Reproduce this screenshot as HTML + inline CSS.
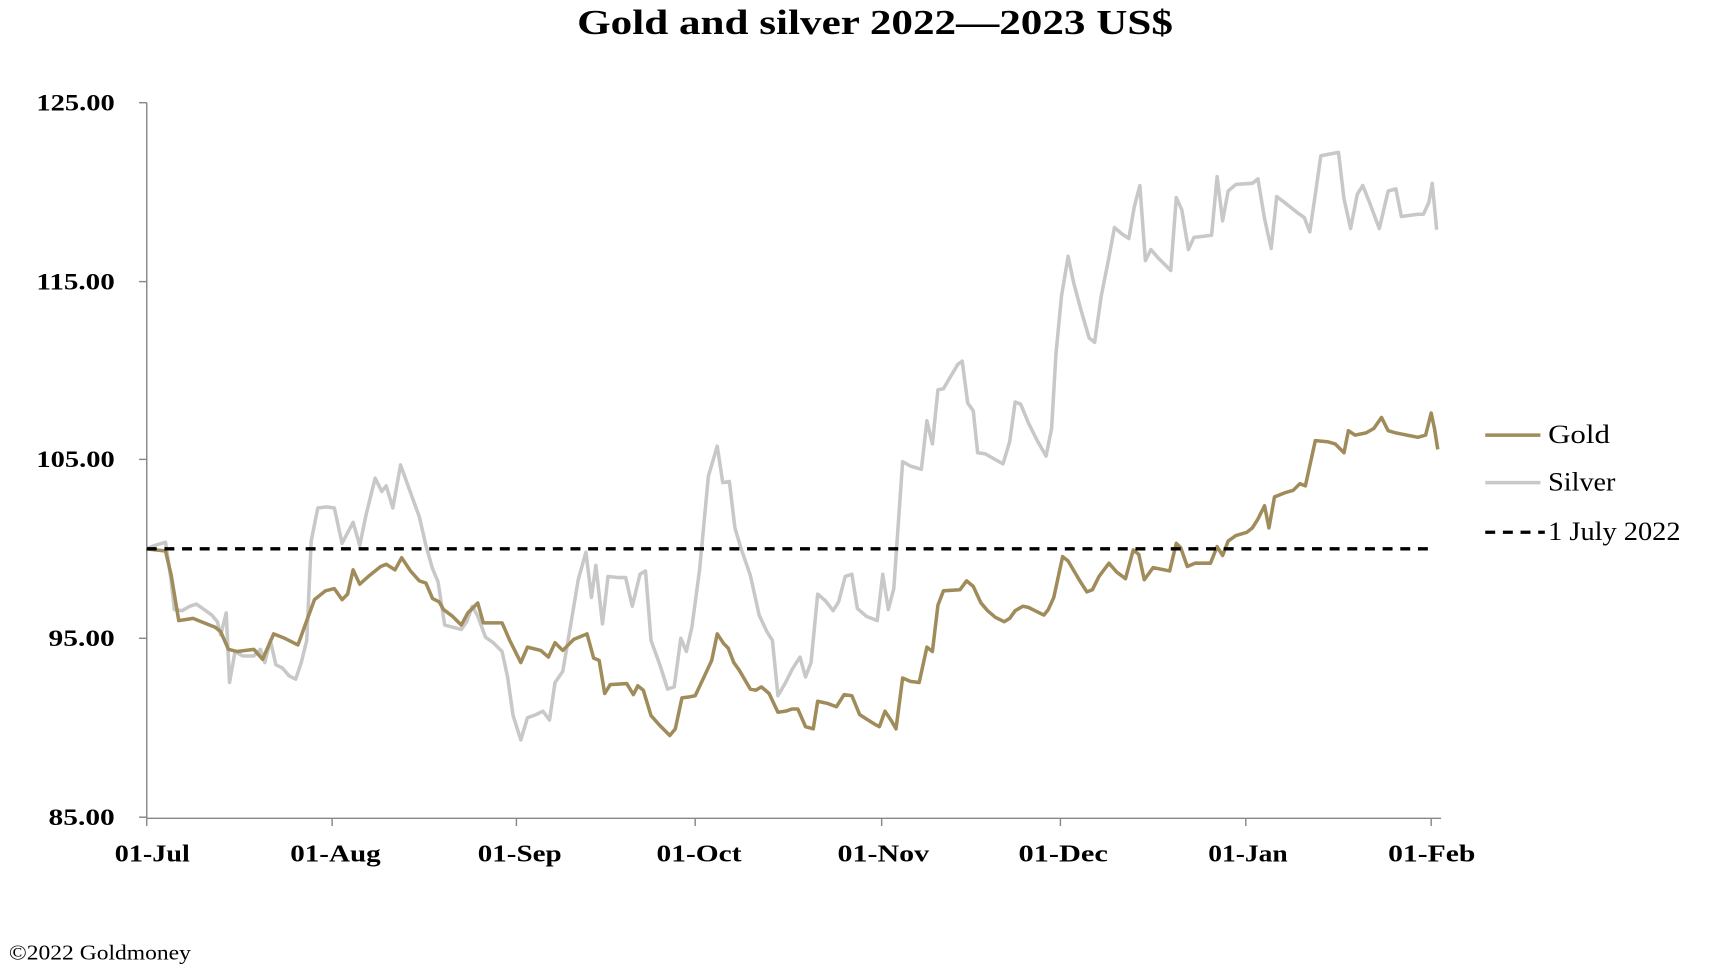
<!DOCTYPE html>
<html><head><meta charset="utf-8"><style>
html,body{margin:0;padding:0;background:#fff;}
svg{display:block;}
text{font-family:"Liberation Serif",serif;fill:#000;}
</style></head><body>
<svg width="1728" height="974" viewBox="0 0 1566 882" preserveAspectRatio="none">
<text x="523" y="31" font-size="32" font-weight="bold" textLength="540" lengthAdjust="spacingAndGlyphs">Gold and silver 2022—2023  US$</text>
<g font-size="21" font-weight="bold">
<text x="33" y="100" textLength="71" lengthAdjust="spacingAndGlyphs">125.00</text>
<text x="33" y="262" textLength="71" lengthAdjust="spacingAndGlyphs">115.00</text>
<text x="33" y="423" textLength="71" lengthAdjust="spacingAndGlyphs">105.00</text>
<text x="44" y="585" textLength="60" lengthAdjust="spacingAndGlyphs">95.00</text>
<text x="44" y="747" textLength="60" lengthAdjust="spacingAndGlyphs">85.00</text>
</g>
<g stroke="#888" stroke-width="1.3" fill="none">
<line x1="133" y1="93" x2="133" y2="741"/>
<line x1="133" y1="741" x2="1306" y2="741"/>
<line x1="126" y1="93" x2="133" y2="93"/><line x1="126" y1="255" x2="133" y2="255"/><line x1="126" y1="416" x2="133" y2="416"/><line x1="126" y1="578" x2="133" y2="578"/><line x1="126" y1="740" x2="133" y2="740"/>
<line x1="133" y1="741" x2="133" y2="748"/><line x1="301" y1="741" x2="301" y2="748"/><line x1="468" y1="741" x2="468" y2="748"/><line x1="630" y1="741" x2="630" y2="748"/><line x1="799" y1="741" x2="799" y2="748"/><line x1="961" y1="741" x2="961" y2="748"/><line x1="1129" y1="741" x2="1129" y2="748"/><line x1="1297" y1="741" x2="1297" y2="748"/>
</g>
<g font-size="22" font-weight="bold">
<text x="104" y="780" textLength="68" lengthAdjust="spacingAndGlyphs">01-Jul</text>
<text x="263" y="780" textLength="82" lengthAdjust="spacingAndGlyphs">01-Aug</text>
<text x="433" y="780" textLength="76" lengthAdjust="spacingAndGlyphs">01-Sep</text>
<text x="595" y="780" textLength="77" lengthAdjust="spacingAndGlyphs">01-Oct</text>
<text x="759" y="780" textLength="83" lengthAdjust="spacingAndGlyphs">01-Nov</text>
<text x="923" y="780" textLength="81" lengthAdjust="spacingAndGlyphs">01-Dec</text>
<text x="1095" y="780" textLength="72" lengthAdjust="spacingAndGlyphs">01-Jan</text>
<text x="1258" y="780" textLength="79" lengthAdjust="spacingAndGlyphs">01-Feb</text>
</g>
<polyline fill="none" stroke="#c8c8c8" stroke-width="3.2" stroke-linejoin="round" points="133,497 140,494 150,491 155,525 158,552 165,553 172,549 178,547 185,552 192,557 197,563 200,575 205,555 208,618 213,590 220,594 230,594 236,588 240,600 245,580 250,602 256,605 262,612 268,615 273,600 278,580 282,490 288,460 296,459 303,460 310,492 320,473 326,494 332,465 340,433 346,445 350,440 356,460 363,421 372,446 380,468 386,494 392,515 397,527 403,566 418,570 423,563 428,549 433,558 440,577 447,582 455,590 460,613 465,648 472,670 478,650 486,647 492,644 498,652 503,618 510,608 518,561 524,525 531,500 536,541 540,512 546,565 551,522 560,523 567,523 573,549 580,520 585,517 590,580 598,602 605,624 611,622 617,578 622,590 627,568 634,516 642,431 650,404 655,437 661,436 666,478 672,498 680,521 688,557 695,572 700,580 705,630 712,618 718,606 725,595 730,613 735,600 741,538 748,544 755,553 760,545 766,522 772,520 777,551 785,558 795,562 800,520 805,552 810,533 818,418 825,422 835,425 840,381 845,402 850,353 855,352 862,340 868,330 872,327 877,365 882,372 886,410 893,411 900,415 909,420 915,400 920,364 925,366 932,383 940,399 948,413 953,388 957,320 962,268 968,232 973,256 980,282 987,306 992,310 998,268 1005,233 1010,206 1017,212 1023,216 1028,187 1033,168 1038,236 1043,226 1050,234 1061,245 1066,179 1071,190 1077,226 1082,215 1090,214 1098,213 1103,160 1108,200 1113,173 1120,167 1135,166 1140,162 1146,198 1152,225 1157,178 1165,184 1175,192 1182,197 1187,210 1192,176 1197,141 1213,138 1218,180 1224,207 1230,176 1235,168 1241,183 1250,207 1258,173 1265,171 1270,196 1285,194 1290,194 1295,183 1298,166 1302,208"/>
<polyline fill="none" stroke="#a08c5b" stroke-width="3.2" stroke-linejoin="round" points="133,497 150,499 155,520 162,562 175,560 185,564 195,568 200,572 207,588 215,590 230,588 238,597 248,574 258,578 270,584 278,562 285,543 295,535 303,533 310,543 315,538 320,516 326,529 335,521 345,513 350,511 358,516 364,505 372,517 380,526 386,528 392,542 398,545 402,552 410,558 418,566 424,555 433,546 438,564 455,564 462,580 472,600 478,586 490,589 497,595 503,582 510,589 520,579 532,574 538,596 543,598 548,628 553,620 568,619 574,629 578,621 583,625 590,648 598,657 607,666 612,660 618,632 625,631 630,630 638,613 645,598 650,574 656,583 660,587 665,600 670,607 680,624 685,625 690,622 697,628 705,645 712,644 718,642 723,642 730,658 737,660 741,635 750,637 758,640 765,629 772,630 779,647 785,651 793,656 797,658 802,644 808,653 812,660 818,614 825,617 833,618 840,586 845,590 850,548 855,535 870,534 876,526 882,531 889,546 895,553 902,559 910,563 915,560 920,553 927,549 932,550 940,554 946,557 950,552 955,541 963,504 968,508 978,525 985,536 990,534 996,522 1005,510 1012,518 1020,524 1027,498 1032,502 1037,525 1045,514 1060,517 1066,492 1070,496 1076,513 1083,510 1097,510 1103,495 1108,503 1113,490 1120,485 1130,482 1135,478 1140,470 1146,458 1150,478 1155,450 1165,446 1172,444 1178,438 1183,440 1192,399 1203,400 1210,402 1218,410 1222,390 1228,394 1238,392 1245,388 1252,378 1258,390 1265,392 1275,394 1285,396 1292,394 1297,374 1300,388 1303,407"/>
<line x1="133" y1="497" x2="1300" y2="497" stroke="#000" stroke-width="3" stroke-dasharray="9,7"/>
<line x1="1346" y1="394" x2="1396" y2="394" stroke="#a08c5b" stroke-width="3.2"/>
<line x1="1346" y1="437" x2="1396" y2="437" stroke="#c8c8c8" stroke-width="3.2"/>
<line x1="1346" y1="482" x2="1400" y2="482" stroke="#000" stroke-width="3" stroke-dasharray="9,7"/>
<g font-size="24">
<text x="1403" y="401" textLength="56" lengthAdjust="spacingAndGlyphs">Gold</text>
<text x="1403" y="444" textLength="61" lengthAdjust="spacingAndGlyphs">Silver</text>
<text x="1403" y="489" textLength="120" lengthAdjust="spacingAndGlyphs">1 July 2022</text>
</g>
<text x="8" y="869" font-size="19" textLength="165" lengthAdjust="spacingAndGlyphs">©2022 Goldmoney</text>
</svg>
</body></html>
